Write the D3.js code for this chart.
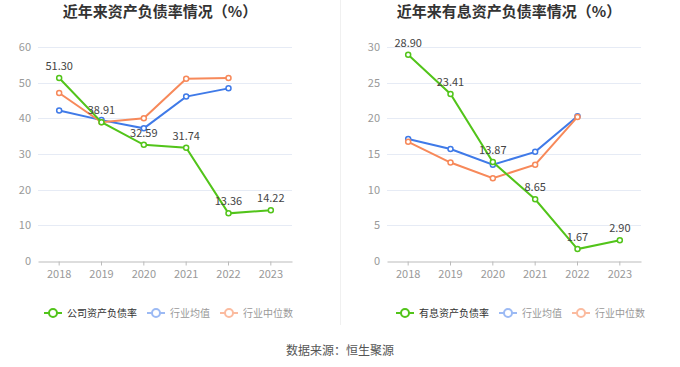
<!DOCTYPE html>
<html>
<head>
<meta charset="utf-8">
<script src="https://cdn.jsdelivr.net/npm/d3@7/dist/d3.min.js"></script>
<style>
  html, body { margin: 0; padding: 0; background: #fff; }
  svg text { font-family: "Noto Sans CJK SC", "Noto Sans", sans-serif; }
</style>
</head>
<body>
<svg id="chart" width="680" height="367"></svg>
<script>
const years = ['2018', '2019', '2020', '2021', '2022', '2023'];

// left panel
const debtRatio = [51.30, 38.91, 32.59, 31.74, 13.36, 14.22];
const debtIndustryAvg = [42.2, 39.5, 37.2, 46.1, 48.4, null];
const debtIndustryMedian = [47.1, 38.9, 40.0, 51.1, 51.3, null];
const debtTicks = [0, 10, 20, 30, 40, 50, 60];

// right panel
const interestRatio = [28.90, 23.41, 13.87, 8.65, 1.67, 2.90];
const interestIndustryAvg = [17.1, 15.7, 13.5, 15.3, 20.3, null];
const interestIndustryMedian = [16.7, 13.8, 11.6, 13.5, 20.2, null];
const interestTicks = [0, 5, 10, 15, 20, 25, 30];

const colors = { company: '#52c41a', avg: '#3f7ae8', median: '#f7895a' };
const legendColors = { company: '#52c41a', avg: '#9cbaf4', median: '#fbbb9f' };

const svg = d3.select('#chart');

// divider
svg.append('line')
  .attr('x1', 340.5).attr('x2', 340.5)
  .attr('y1', 0).attr('y2', 325)
  .attr('stroke', '#f0f0f0');

function drawPanel({ x0, x1, title, ticks, company, avg, median, companyName, legendX }) {
  const g = svg.append('g');
  const x = d3.scaleBand().domain(years).range([x0, x1]);
  const y = d3.scaleLinear().domain([0, d3.max(ticks)]).range([261, 47]);
  const cx = d => x(d) + x.bandwidth() / 2;

  g.append('text')
    .attr('x', (x0 + x1) / 2 - 5).attr('y', 17)
    .attr('text-anchor', 'middle')
    .attr('font-size', 15).attr('font-weight', 'bold')
    .attr('fill', '#333')
    .text(title);

  // grid
  g.selectAll('.grid').data(ticks.filter(t => t > 0)).join('line')
    .attr('x1', x0).attr('x2', x1)
    .attr('y1', d => Math.round(y(d)) + 0.5).attr('y2', d => Math.round(y(d)) + 0.5)
    .attr('stroke', '#e6ebf5');

  g.selectAll('.ylab').data(ticks).join('text')
    .attr('x', x0 - 7).attr('y', d => y(d) + 4)
    .attr('text-anchor', 'end')
    .attr('font-size', 11).attr('fill', '#999')
    .text(d => d);

  // x axis
  const axis = d3.axisBottom(x).tickSize(4).tickSizeOuter(0);
  const ax = g.append('g').attr('transform', 'translate(0,261.5)').call(axis);
  ax.select('.domain').attr('stroke', '#bbb');
  ax.selectAll('.tick line').attr('stroke', '#bbb');
  ax.selectAll('.tick text')
    .attr('font-size', 11).attr('fill', '#999')
    .attr('dy', '0.9em')
    .style('font-family', '"Noto Sans CJK SC", "Noto Sans", sans-serif');

  const line = d3.line()
    .defined(d => d != null)
    .x((d, i) => cx(years[i]))
    .y(d => y(d));

  const series = [
    { values: avg, color: colors.avg },
    { values: median, color: colors.median },
    { values: company, color: colors.company },
  ];

  series.forEach(s => {
    g.append('path')
      .attr('d', line(s.values))
      .attr('fill', 'none')
      .attr('stroke', s.color)
      .attr('stroke-width', 2);
    g.selectAll(null)
      .data(s.values.map((v, i) => ({ v, yr: years[i] })).filter(d => d.v != null))
      .join('circle')
      .attr('cx', d => cx(d.yr)).attr('cy', d => y(d.v))
      .attr('r', 2.5)
      .attr('fill', '#fff')
      .attr('stroke', s.color)
      .attr('stroke-width', 1.5);
  });

  g.selectAll('.vlab').data(company).join('text')
    .attr('x', (d, i) => cx(years[i]))
    .attr('y', d => y(d) - 8)
    .attr('text-anchor', 'middle')
    .attr('font-size', 11).attr('fill', '#444')
    .text(d => d.toFixed(2));

  // legend
  const items = [
    { name: companyName, color: legendColors.company, text: '#333' },
    { name: '行业均值', color: legendColors.avg, text: '#999' },
    { name: '行业中位数', color: legendColors.median, text: '#999' },
  ];
  const lg = g.append('g').attr('transform', 'translate(0,313)');
  let lx = legendX;
  items.forEach(it => {
    lg.append('line')
      .attr('x1', lx).attr('x2', lx + 18)
      .attr('stroke', it.color).attr('stroke-width', 2);
    lg.append('circle')
      .attr('cx', lx + 9).attr('r', 4)
      .attr('fill', '#fff').attr('stroke', it.color).attr('stroke-width', 2);
    const t = lg.append('text')
      .attr('x', lx + 23).attr('y', 3.5)
      .attr('font-size', 10).attr('fill', it.text)
      .text(it.name);
    lx += 23 + t.node().getComputedTextLength() + 10;
  });
}

drawPanel({
  x0: 38, x1: 292,
  title: '近年来资产负债率情况（%）',
  ticks: debtTicks,
  company: debtRatio, avg: debtIndustryAvg, median: debtIndustryMedian,
  companyName: '公司资产负债率',
  legendX: 44,
});

drawPanel({
  x0: 387, x1: 641,
  title: '近年来有息资产负债率情况（%）',
  ticks: interestTicks,
  company: interestRatio, avg: interestIndustryAvg, median: interestIndustryMedian,
  companyName: '有息资产负债率',
  legendX: 396,
});

svg.append('text')
  .attr('x', 340).attr('y', 355)
  .attr('text-anchor', 'middle')
  .attr('font-size', 12).attr('fill', '#555')
  .text('数据来源：恒生聚源');
</script>
</body>
</html>
